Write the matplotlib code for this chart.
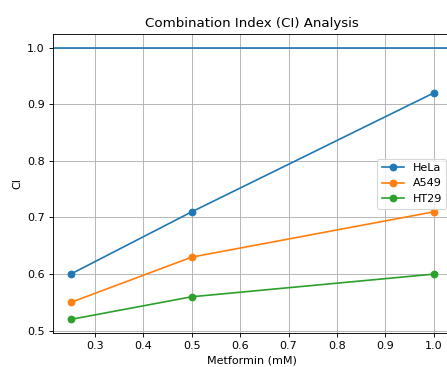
import matplotlib
matplotlib.use("Agg")
import matplotlib.pyplot as plt

metformin = [0.25, 0.5, 1.0]
hela = [0.60, 0.71, 0.92]
a549 = [0.55, 0.63, 0.71]
ht29 = [0.52, 0.56, 0.60]
series_names = ["HeLa", "A549", "HT29"]

DPI = 80
fig = plt.figure(figsize=(447 / DPI, 367 / DPI), dpi=DPI)
ax = fig.add_axes([52.6 / 447, 34 / 367, 399.4 / 447, 299 / 367])

for name, vals in zip(series_names, [hela, a549, ht29]):
    ax.plot(metformin, vals, marker="o", label=name)

ax.axhline(1.0)
ax.set_title("Combination Index (CI) Analysis")
ax.set_xlabel("Metformin (mM)")
ax.set_ylabel("CI")
ax.grid(True)
ax.legend(loc="center right")

fig.savefig("out.png", dpi=DPI)
